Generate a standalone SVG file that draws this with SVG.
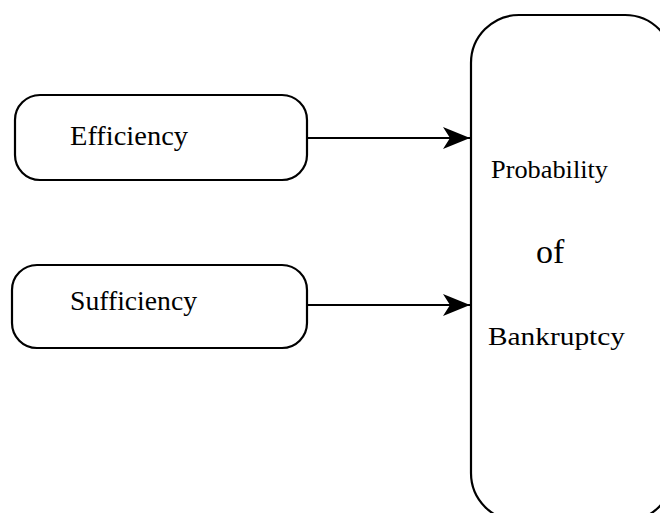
<svg xmlns="http://www.w3.org/2000/svg" width="660" height="513" viewBox="0 0 660 513">
  <style>
    .box { fill: #ffffff; stroke: #000000; stroke-width: 2.2; }
    .lbl { font-family: "Liberation Serif", "Times New Roman", serif; fill: #000000; }
    .edge { stroke: #000000; stroke-width: 2; fill: none; }
  </style>
  <defs>
    <marker id="head" markerWidth="28" markerHeight="24" refX="27" refY="11" orient="auto" markerUnits="userSpaceOnUse">
      <path d="M0,0 L27,11 L0,22 L7,11 Z" fill="#000000"/>
    </marker>
  </defs>
  <rect width="660" height="513" fill="#ffffff"/>

  <g id="efficiency">
    <rect class="box" x="15" y="95" width="292" height="85" rx="25" ry="25"/>
    <text class="lbl" x="70" y="145" font-size="27" textLength="118" lengthAdjust="spacingAndGlyphs">Efficiency</text>
  </g>

  <g id="sufficiency">
    <rect class="box" x="12" y="265" width="295" height="83" rx="25" ry="25"/>
    <text class="lbl" x="70" y="310" font-size="27" textLength="127" lengthAdjust="spacingAndGlyphs">Sufficiency</text>
  </g>

  <g id="bankruptcy">
    <rect class="box" x="471" y="15" width="202" height="506" rx="48" ry="48"/>
    <text class="lbl" x="491" y="178" font-size="25" textLength="117" lengthAdjust="spacingAndGlyphs">Probability</text>
    <text class="lbl" x="536" y="263" font-size="34">of</text>
    <text class="lbl" x="488" y="345" font-size="25" textLength="137" lengthAdjust="spacingAndGlyphs">Bankruptcy</text>
  </g>

  <g id="connectors">
    <line class="edge" x1="307" y1="138" x2="470" y2="138" marker-end="url(#head)"/>
    <line class="edge" x1="307" y1="305" x2="470" y2="305" marker-end="url(#head)"/>
  </g>
</svg>
